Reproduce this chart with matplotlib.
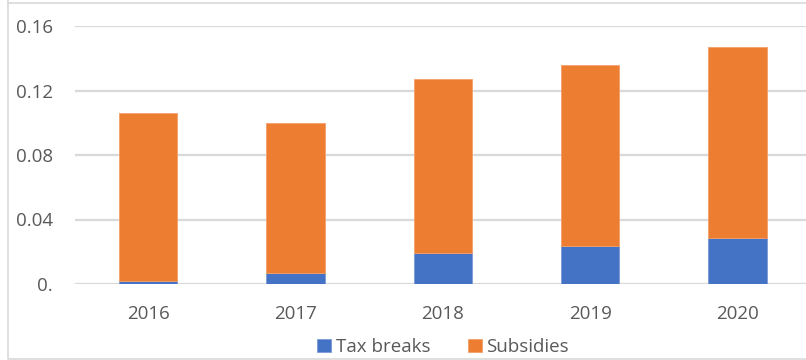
import matplotlib.pyplot as plt
import numpy as np

years = ["2016", "2017", "2018", "2019", "2020"]
tax_breaks = [0.002, 0.0066, 0.0194, 0.0238, 0.0285]
subsidies = [0.1039, 0.0931, 0.1079, 0.1118, 0.1183]
y_ticks = [0.0, 0.04, 0.08, 0.12, 0.16]
y_tick_labels = ["0.", "0.04", "0.08", "0.12", "0.16"]

plt.rcParams['font.family'] = ['Open Sans', 'DejaVu Sans']

BLUE = "#4472C4"
ORANGE = "#ED7D31"
TEXT = "#595959"
GRID = "#D9D9D9"

fig = plt.figure(figsize=(8.06, 3.6), dpi=100)
W, H = 806, 360

# plot area runs slightly past the right edge of the canvas
left, right = 74.6, 811.2
top, bottom = 26, 284
ax = fig.add_axes([left / W, 1 - bottom / H, (right - left) / W, (bottom - top) / H])

x = np.arange(len(years))
ax.bar(x, tax_breaks, width=0.395, color=BLUE, label="Tax breaks", zorder=3,
       edgecolor="#7A9BD6", linewidth=0.6)
ax.bar(x, subsidies, width=0.395, bottom=tax_breaks, color=ORANGE, label="Subsidies",
       zorder=3, edgecolor="#F3A06A", linewidth=0.6)

ax.set_xlim(-0.5, len(years) - 0.5)
ax.set_ylim(0, 0.16)
ax.set_yticks(y_ticks)
ax.set_yticklabels(y_tick_labels)
ax.set_xticks(x)
ax.set_xticklabels(years)
ax.tick_params(axis="both", length=0, labelsize=13.5, colors=TEXT)
ax.tick_params(axis="y", pad=15.5)
ax.tick_params(axis="x", pad=15)
ax.yaxis.grid(True, color=GRID, linewidth=1.6, zorder=0)
for s in ax.spines.values():
    s.set_visible(False)

# outer chart frame
frame = plt.Line2D([8 / W, 8 / W, 1.01], [1.1, 1 - 359 / H, 1 - 359 / H],
                   transform=fig.transFigure, color=GRID, linewidth=1.2)
fig.add_artist(frame)
fig.add_artist(plt.Line2D([8 / W, 1.01], [1 - 3 / H, 1 - 3 / H],
                          transform=fig.transFigure, color=GRID, linewidth=1.2))

ax.legend(loc="center", bbox_to_anchor=(443 / W, 1 - 347 / H), bbox_transform=fig.transFigure,
          ncol=2, frameon=False, fontsize=13.5, labelcolor=TEXT, handlelength=0.75,
          handleheight=0.75, handletextpad=0.25, columnspacing=2.0)

fig.savefig("out.png", dpi=100)
